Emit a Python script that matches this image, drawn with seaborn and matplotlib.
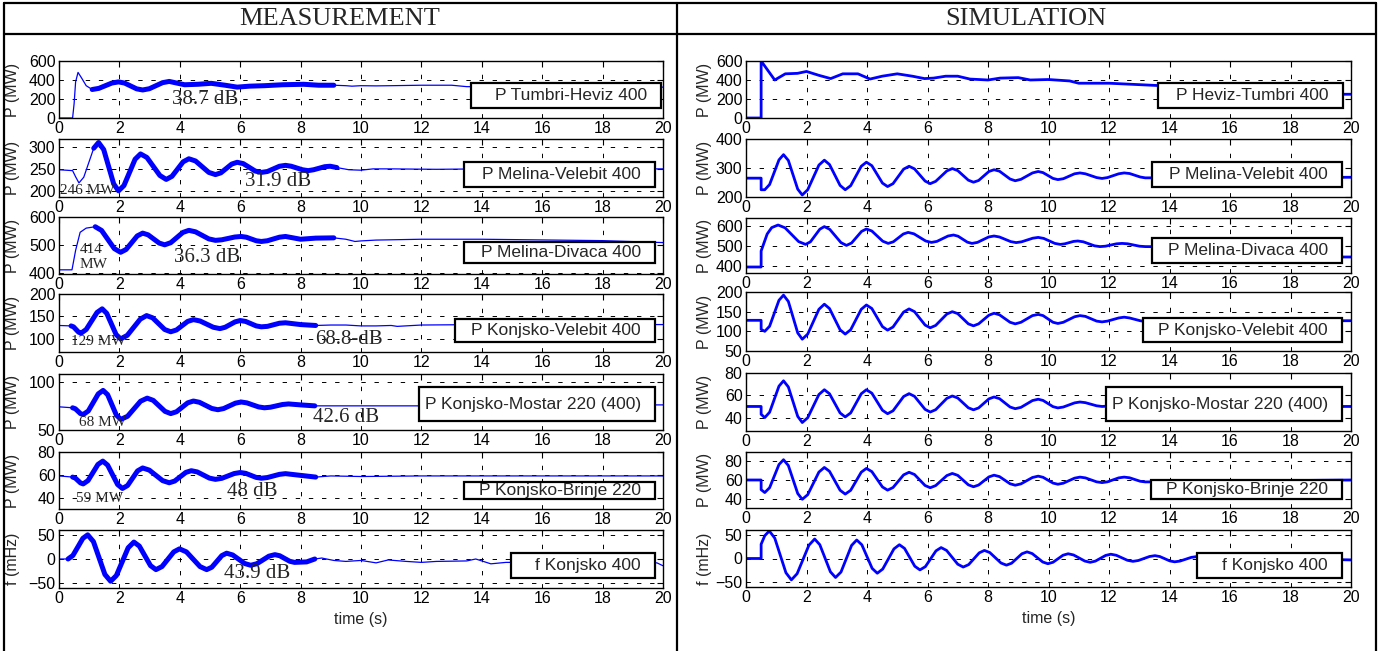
import matplotlib
matplotlib.use("Agg")
import matplotlib.pyplot as plt
import seaborn as sns
import pandas as pd
from matplotlib.patches import Rectangle
from matplotlib.lines import Line2D

# ---------------- DATA ----------------
# Measurement (left column)
meas_names = ["P Tumbri-Heviz 400", "P Melina-Velebit 400", "P Melina-Divaca 400",
              "P Konjsko-Velebit 400", "P Konjsko-Mostar 220 (400)", "P Konjsko-Brinje 220",
              "f Konjsko 400"]
meas_ylabels = ["P (MW)"] * 6 + ["f (mHz)"]

m1_t = [0, 0.45, 0.5, 0.55, 0.63, 0.75, 0.9, 1.1, 1.32, 1.75, 1.97, 2.17, 2.57, 2.77, 2.99, 3.43, 3.65, 4.16, 4.6, 5.04,
        5.5, 5.9, 6.3, 6.8, 7.4, 8.1, 8.6, 9.1, 9.5, 9.7, 10.0, 10.5, 11.0, 12.0, 13.0, 13.5, 15.0, 20.0]
m1_v = [0, 0, 150, 380, 480, 420, 340, 300, 312, 368, 380, 368, 307, 295, 308, 372, 385, 350, 355, 365,
        345, 325, 335, 340, 350, 355, 345, 345, 340, 335, 340, 338, 340, 345, 345, 330, 325, 325]

m2_t = [0, 0.45, 0.55, 0.66, 0.82, 1.15, 1.31, 1.48, 1.81, 1.97, 2.15, 2.52, 2.7, 2.91, 3.34, 3.55, 3.74, 4.11, 4.3, 4.52,
        4.96, 5.18, 5.36, 5.72, 5.9, 6.1, 6.5, 6.7, 6.9, 7.3, 7.5, 7.69, 8.06, 8.25, 8.43, 8.8, 8.98, 9.2, 9.6, 10.0,
        10.4, 11.0, 12.5, 14.0, 20.0]
m2_v = [248, 246, 232, 218, 231, 297, 310, 294, 216, 200, 212, 272, 284, 276, 235, 226, 233, 266, 273, 268,
        242, 237, 241, 261, 265, 262, 245, 242, 244, 256, 258, 256, 248, 246, 248, 255, 256, 253, 248, 247,
        250, 250, 249, 250, 250]

m3_t = [0, 0.43, 0.55, 0.7, 0.9, 1.2, 1.41, 1.83, 2.04, 2.22, 2.59, 2.77, 2.95, 3.32, 3.5, 3.7, 4.1, 4.3, 4.52, 4.96,
        5.18, 5.39, 5.82, 6.03, 6.2, 6.53, 6.7, 6.9, 7.3, 7.5, 8.0, 8.5, 9.1, 9.5, 9.8, 10.0, 10.5, 12.0, 14.0, 18.0,
        20.0]
m3_v = [410, 410, 480, 545, 560, 565, 551.6, 486.4, 473, 483.1, 531.9, 542, 535.9, 506.1, 500, 507.6, 544.4, 552, 546.7, 521.3,
        516, 518, 528, 530, 527.4, 514.6, 512, 514.6, 527.4, 530, 520, 524, 525, 520, 512, 514, 517, 520, 520, 515,
        508]

m4_t = [0, 0.4, 0.48, 0.65, 0.73, 0.9, 1.26, 1.43, 1.58, 1.89, 2.04, 2.26, 2.69, 2.9, 3.1, 3.5, 3.7, 3.89, 4.26, 4.45,
        4.67, 5.11, 5.33, 5.5, 5.83, 6.0, 6.18, 6.53, 6.7, 6.9, 7.3, 7.5, 8.0, 8.5, 9.0, 9.5, 10.0, 10.5, 11.0, 11.2,
        12.0, 14.0, 20.0]
m4_v = [130, 129, 127, 115, 113, 121, 159, 167, 157, 110, 100, 108, 144, 152, 147, 121, 116, 120, 139, 143,
        140, 126, 123, 126, 138, 141, 139, 129, 127, 128, 135, 136, 132, 130, 131, 131, 129, 129, 130, 128,
        131, 132, 132]

m5_t = [0, 0.45, 0.54, 0.71, 0.8, 0.97, 1.3, 1.46, 1.61, 1.9, 2.05, 2.27, 2.7, 2.92, 3.12, 3.51, 3.7, 3.89, 4.26, 4.45,
        4.65, 5.06, 5.26, 5.45, 5.84, 6.03, 6.22, 6.61, 6.8, 7.0, 7.4, 7.6, 8.0, 8.47, 9.0, 10.0, 12.0, 13.0, 20.0]
m5_v = [74, 73, 72, 67, 66, 69.7, 87.4, 91, 86.6, 65.4, 61, 64.2, 79.8, 83, 80.7, 69.3, 67, 68.9, 78.1, 80,
        78.7, 72.3, 71, 72.2, 77.8, 79, 78.1, 73.9, 73, 73.6, 76.4, 77, 76, 75, 75, 75, 75, 76, 76]

m6_t = [0, 0.45, 0.54, 0.71, 0.8, 0.96, 1.29, 1.45, 1.61, 1.94, 2.1, 2.27, 2.6, 2.77, 2.99, 3.43, 3.65, 3.83, 4.2, 4.38,
        4.58, 4.98, 5.18, 5.39, 5.8, 6.0, 6.18, 6.53, 6.7, 6.9, 7.3, 7.5, 8.0, 8.5, 9.0, 10.0, 12.0, 20.0]
m6_v = [59, 58, 57.1, 52.9, 52, 54.9, 69.1, 72, 68.5, 51.5, 48, 50.6, 63.4, 66, 64.1, 54.9, 53, 54.5, 62.1, 63.6,
        62.5, 57.1, 56, 56.9, 61.1, 62, 61.3, 57.7, 57, 57.6, 60.4, 61, 59.5, 58, 59, 58.5, 59, 59]

m7_t = [0, 0.3, 0.46, 0.79, 0.95, 1.14, 1.52, 1.71, 1.9, 2.29, 2.48, 2.66, 3.03, 3.21, 3.41, 3.8, 3.99, 4.22, 4.67, 4.89,
        5.06, 5.39, 5.55, 5.75, 6.15, 6.35, 6.55, 6.95, 7.15, 7.31, 7.64, 7.8, 8.2, 8.47, 8.7, 9.1, 9.5, 10.0, 10.5,
        10.9, 11.5, 12.0, 12.5, 13.5, 13.8, 14.3, 14.8, 19.8, 20.0]
m7_v = [0, 0, 7.3, 42.7, 50, 36, -32, -46, -34.2, 23.2, 35, 26.7, -13.7, -22, -15.7, 14.7, 21, 14.7, -15.7, -22,
        -17, 7, 12, 8.4, -9.4, -13, -9.8, 5.8, 9, 6.7, -4.7, -7, -6, 0, 2, -3, -5, -3, -8,
        -2, -5, -7, -5, -4, 0, -10, -7, -8, -14]

# time windows of the fitted (thick) segment in the measurement
meas_fit = [(1.1, 9.2), (1.0, 9.2), (1.0, 9.2), (0.4, 8.5), (0.4, 8.5), (0.4, 8.5), (0.3, 8.5)]
meas_damping = ["38.7 dB", "31.9 dB", "36.3 dB", "68.8-dB", "42.6 dB", "48 dB", "43.9 dB"]
meas_init = ["246 MW", "414\nMW", "129 MW", "68 MW", "59 MW"]

# Simulation (right column)
sim_names = ["P Heviz-Tumbri 400", "P Melina-Velebit 400", "P Melina-Divaca 400",
             "P Konjsko-Velebit 400", "P Konjsko-Mostar 220 (400)", "P Konjsko-Brinje 220",
             "f Konjsko 400"]

s1_t = [0, 0.5, 0.5, 0.95, 1.3, 1.7, 2.0, 2.4, 2.8, 3.2, 3.7, 4.1, 4.5, 5.0, 5.5, 5.9, 6.2, 6.6, 7.0, 7.4,
        8.0, 8.4, 9.0, 9.4, 10.0, 10.7, 11.0, 12.0, 13.6, 18.5, 18.6, 20.0]
s1_v = [0, 0, 600, 400, 465, 470, 490, 450, 415, 465, 465, 410, 440, 465, 440, 415, 420, 440, 440, 410,
        400, 420, 425, 400, 405, 390, 366, 366, 342, 342, 250, 250]

# common time base of the simulated power swings (Melina-Velebit, Konjsko-Velebit/Mostar/Brinje)
sim_osc_t = [0, 0.5, 0.5, 0.62, 0.78, 1.09, 1.24, 1.4, 1.71, 1.86, 2.04, 2.41, 2.59, 2.76, 3.11, 3.28, 3.46, 3.81, 3.98,
             4.16, 4.51, 4.68, 4.86, 5.21, 5.39, 5.57, 5.92, 6.09, 6.27, 6.64, 6.82, 7.0, 7.35, 7.52, 7.69, 8.03, 8.2,
             8.38, 8.73, 8.9, 9.09, 9.47, 9.66, 9.82, 10.15, 10.31, 10.49, 10.86, 11.04, 11.22, 11.59, 11.77, 11.95,
             12.32, 12.5, 12.68, 13.03, 13.2, 20.0]

s2_v = [265, 265, 225, 225, 243, 328, 346, 326, 227, 207, 225, 310, 327, 312, 240, 225, 239, 306, 320,
        308, 248, 236, 246, 296, 306, 297, 255, 246, 254, 290, 298, 291, 258, 251, 257, 288, 294,
        289, 262, 256, 261, 283, 288, 284, 264, 260, 263, 280, 283, 280, 267, 264, 267,
        280, 283, 281, 269, 266, 268]

s3_t = [0, 0.5, 0.5, 0.7, 0.85, 1.06, 1.29, 1.74, 1.97, 2.13, 2.44, 2.59, 2.77, 3.14, 3.32, 3.49, 3.82, 3.98, 4.16, 4.52,
        4.7, 4.87, 5.2, 5.36, 5.55, 5.94, 6.13, 6.31, 6.68, 6.86, 7.01, 7.32, 7.47, 7.65, 8.02, 8.2, 8.38, 8.75, 8.93,
        9.11, 9.48, 9.66, 9.84, 10.21, 10.39, 10.54, 10.83, 10.97, 11.15, 11.52, 11.7, 11.88, 12.25, 12.43, 12.62,
        13.01, 13.2, 19.0, 19.7, 20.0]
s3_v = [395, 395, 475, 560, 592, 605, 591, 522, 508, 521, 584, 597, 583, 517, 503, 515, 573, 585, 575, 524,
        513, 521, 560, 568, 561, 525, 518, 523, 550, 555, 549, 519, 513, 518, 545, 550, 545, 522, 517,
        521, 539, 543, 538, 513, 508, 511, 523, 525, 521, 501, 497, 499, 511, 513, 511,
        499, 497, 490, 445, 445]

s4_v = [128, 128, 105, 100, 113, 179, 192, 176, 96, 80, 93, 156, 169, 158, 104, 93, 104, 156, 167,
        158, 112, 103, 111, 149, 157, 150, 116, 109, 115, 144, 150, 145, 119, 114, 119, 141, 146,
        142, 123, 119, 123, 140, 143, 140, 123, 120, 123, 137, 140, 138, 126, 124, 126,
        134, 136, 134, 127, 125, 127]

s5_v = [50, 50, 43, 40, 44.8, 68.2, 73, 67.5, 41.1, 35.6, 39.9, 60.7, 65, 61.4, 44.2, 40.6, 44.2, 61.4, 65,
        61.9, 46.6, 43.5, 46.1, 58.9, 61.5, 59.1, 47.4, 45, 47.1, 57.3, 59.4, 57.6, 48.8, 47, 48.7, 56.8, 58.5,
        57, 49.5, 48, 49.2, 55.3, 56.5, 55.4, 49.8, 48.7, 49.5, 53.2, 54, 53.4, 50.6, 50, 50.3,
        51.7, 52, 51.7, 50.3, 50, 50]

s6_v = [60, 60, 50, 47, 52, 76, 81, 75, 46, 40, 44.8, 68.2, 73, 69, 49.4, 45.4, 49.3, 68.1, 72,
        68.7, 52.8, 49.5, 52.2, 65.3, 68, 65.7, 54.3, 52, 54.2, 64.6, 66.8, 64.8, 55, 53, 54.8, 63.2, 65,
        63.5, 56.1, 54.6, 56, 62.6, 64, 62.8, 56.8, 55.6, 56.7, 61.9, 63, 62.2, 58.1, 57.3, 58.1,
        62.2, 63, 62.3, 58.7, 58, 60]

s7_t = [0, 0.5, 0.5, 0.62, 0.77, 0.95, 1.32, 1.5, 1.69, 2.08, 2.27, 2.44, 2.79, 2.96, 3.14, 3.49, 3.66, 3.83, 4.17, 4.34,
        4.52, 4.89, 5.07, 5.24, 5.58, 5.75, 5.93, 6.28, 6.45, 6.63, 7.0, 7.18, 7.36, 7.71, 7.88, 8.06, 8.43, 8.61,
        8.78, 9.12, 9.29, 9.46, 9.81, 9.98, 10.15, 10.48, 10.65, 10.83, 11.2, 11.38, 11.55, 11.89, 12.06, 12.24,
        12.61, 12.79, 12.97, 13.34, 13.52, 13.68, 14.01, 14.17, 14.35, 14.72, 14.9, 20.0]
s7_v = [0, 0, 30, 48, 58, 43, -30, -45, -32, 28, 41, 29, -28, -40, -28.5, 27.5, 39, 28.8, -20.8, -31,
        -22.2, 20.2, 29, 21.3, -16.3, -24, -17.1, 16.1, 23, 17, -12, -18, -12.9, 11.9, 17, 12.5, -9.5, -14,
        -9.9, 9.9, 14, 10.4, -7.4, -11, -7.9, 6.9, 10, 7.4, -5.4, -8, -5.5, 6.5, 9, 6.8,
        -3.8, -6, -4.2, 4.2, 6, 4.1, -5.1, -7, -5.4, 2.4, 4, -3]

x_ticks = [0, 2, 4, 6, 8, 10, 12, 14, 16, 18, 20]
meas_yticks = [[0, 200, 400, 600], [200, 250, 300], [400, 500, 600], [100, 150, 200], [50, 100], [40, 60, 80], [-50, 0, 50]]
sim_yticks = [[0, 200, 400, 600], [200, 300, 400], [400, 500, 600], [50, 100, 150, 200], [40, 60, 80], [40, 60, 80], [-50, 0, 50]]

# ---------------- LAYOUT / STYLE ----------------
meas_ylim = [(0, 600), (186, 318), (395, 600), (71, 200), (50, 108), (30, 80), (-60, 60)]
sim_ylim = [(0, 600), (200, 400), (365, 640), (50, 200), (28, 80), (31, 89), (-60, 60)]

W, H = 1380, 651
sns.set_style("white")
plt.rcParams["font.family"] = ["Liberation Sans", "DejaVu Sans"]
fig = plt.figure(figsize=(W / 100, H / 100), dpi=100)
fig.patch.set_facecolor("white")


def fx(px):
    return px / W


def fy(py):
    return 1 - py / H


meas_rows = [(61, 118), (139, 197), (217, 274), (294, 352), (374, 430), (452, 509), (530, 588)]
sim_rows = [(61, 118), (139, 197), (218, 273), (292, 351), (373, 431), (452, 508), (530, 587)]
meas_x = (59, 663)
sim_x = (746, 1351)

meas_data = [(m1_t, m1_v), (m2_t, m2_v), (m3_t, m3_v), (m4_t, m4_v), (m5_t, m5_v), (m6_t, m6_v), (m7_t, m7_v)]
sim_data = [(s1_t, s1_v), (sim_osc_t, s2_v), (s3_t, s3_v), (sim_osc_t, s4_v), (sim_osc_t, s5_v),
            (sim_osc_t, s6_v), (s7_t, s7_v)]

BLUE = "#0000FF"
GRID_LS = (0, (4.5, 9))
FS = 11.5


def make_ax(xr, yr, ylim, yticks):
    ax = fig.add_axes([fx(xr[0]), fy(yr[1]), (xr[1] - xr[0]) / W, (yr[1] - yr[0]) / H])
    ax.set_xlim(0, 20)
    ax.set_ylim(*ylim)
    ax.set_xticks(x_ticks)
    ax.set_yticks(yticks)
    ax.grid(True, color="black", linestyle=GRID_LS, linewidth=0.7)
    ax.tick_params(direction="in", length=4, width=0.8, top=True, right=True,
                   labelsize=FS, pad=2.5, colors="black")
    for s in ax.spines.values():
        s.set_visible(True)
        s.set_color("black")
        s.set_linewidth(1.0)
    ax.set_facecolor("white")
    return ax


def finish_labels(ax, ylabel, last, label_x):
    ax.set_xlabel("time (s)" if last else "", fontsize=FS, labelpad=4)
    ax.set_ylabel(ylabel, fontsize=FS)
    ax.yaxis.set_label_coords(label_x, 0.5)


def legend_box(x0, y0, x1, y1, text):
    fig.add_artist(Rectangle((fx(x0), fy(y1)), (x1 - x0) / W, (y1 - y0) / H,
                             transform=fig.transFigure, facecolor="white",
                             edgecolor="black", linewidth=1.6, zorder=5))
    fig.text(fx(x1 - 14), fy((y0 + y1) / 2), text, ha="right", va="center",
             fontsize=12.5, zorder=6)


meas_boxes = [(471, 83, 661, 108), (464, 162, 655, 187), (464, 242, 655, 263), (455, 319, 655, 342),
              (419, 387, 655, 421), (464, 482, 655, 499), (511, 553, 655, 578)]
sim_boxes = [(1158, 83, 1343, 108), (1152, 162, 1342, 187), (1152, 238, 1342, 263), (1143, 318, 1342, 342),
             (1106, 387, 1342, 421), (1151, 480, 1342, 499), (1197, 553, 1342, 578)]

# measurement column
for i in range(7):
    t, v = meas_data[i]
    df = pd.DataFrame({"t": t, "v": v})
    ax = make_ax(meas_x, meas_rows[i], meas_ylim[i], meas_yticks[i])
    sns.lineplot(data=df, x="t", y="v", ax=ax, color=BLUE, linewidth=0.9,
                 estimator=None, sort=False)
    a, b = meas_fit[i]
    dfit = df[(df["t"] >= a) & (df["t"] <= b)]
    sns.lineplot(data=dfit, x="t", y="v", ax=ax, color=BLUE, linewidth=3.6,
                 estimator=None, sort=False, solid_capstyle="round", solid_joinstyle="round")
    finish_labels(ax, meas_ylabels[i], i == 6, -0.065)
    legend_box(*meas_boxes[i], meas_names[i])

# simulation column
for i in range(7):
    t, v = sim_data[i]
    df = pd.DataFrame({"t": t, "v": v})
    ax = make_ax(sim_x, sim_rows[i], sim_ylim[i], sim_yticks[i])
    sns.lineplot(data=df, x="t", y="v", ax=ax, color=BLUE, linewidth=2.0,
                 estimator=None, sort=False, solid_joinstyle="round")
    finish_labels(ax, meas_ylabels[i], i == 6, -0.057)
    legend_box(*sim_boxes[i], sim_names[i])

# damping annotations (serif)
serif = ["Liberation Serif", "DejaVu Serif"]
damp_pos = [(172, 100), (245, 182), (174, 257), (315, 340), (313, 418), (227, 492), (224, 573)]
for (px, py), txt in zip(damp_pos, meas_damping):
    fig.text(fx(px), fy(py), txt, ha="left", va="center", fontsize=15, family=serif, zorder=7)

init_pos = [(60, 191), (80, 257), (71, 342), (79, 423), (76, 499)]
for (px, py), txt in zip(init_pos, meas_init):
    fig.text(fx(px), fy(py), txt, ha="left", va="center", fontsize=11, family=serif,
             zorder=7, linespacing=1.25)

# table frame
lw = 1.6
for (x0, y0, x1, y1) in [(4, 3, 1376, 3), (4, 34, 1376, 34), (4, 3, 4, 651), (677, 3, 677, 651),
                         (1376, 3, 1376, 651)]:
    fig.add_artist(Line2D([fx(x0), fx(x1)], [fy(y0), fy(y1)], transform=fig.transFigure,
                          color="black", linewidth=lw, zorder=8))
fig.text(fx(340), fy(19), "MEASUREMENT", ha="center", va="center", fontsize=19, family=serif)
fig.text(fx(1026), fy(19), "SIMULATION", ha="center", va="center", fontsize=19, family=serif)

fig.savefig("out.png", dpi=100, facecolor="white")
